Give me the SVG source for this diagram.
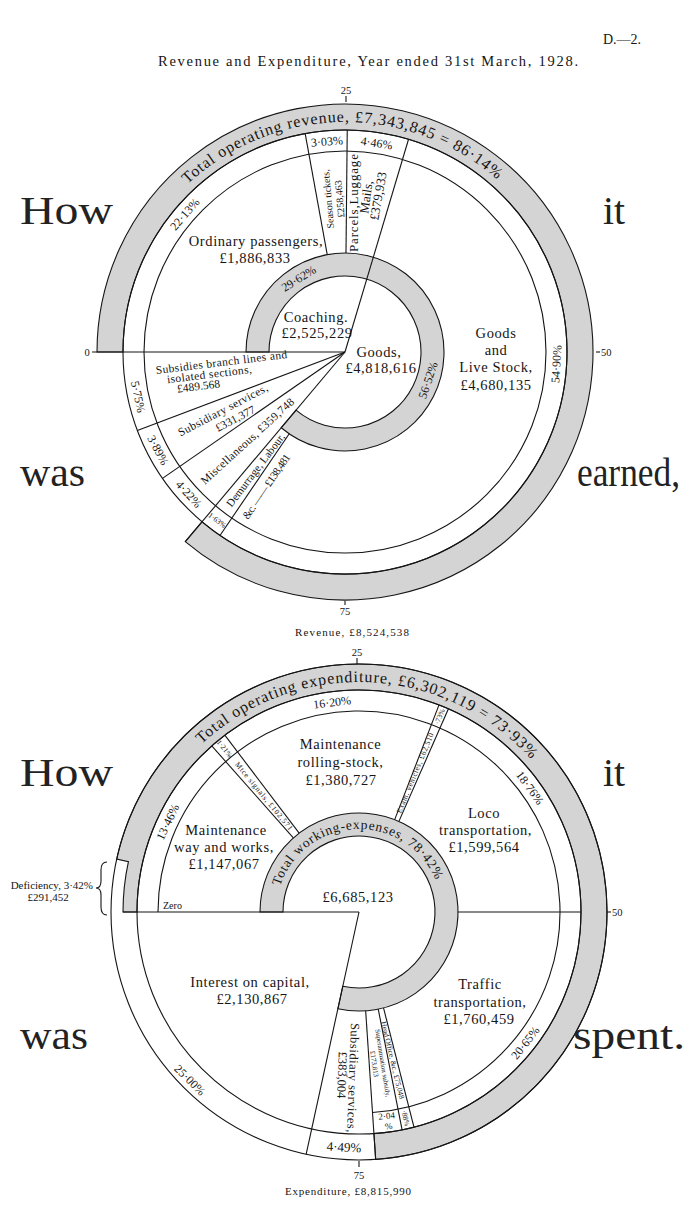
<svg xmlns="http://www.w3.org/2000/svg" width="700" height="1206" viewBox="0 0 700 1206">
<style>
.s{font-family:"Liberation Serif","Times New Roman",serif;fill:#151515}
.ln{fill:none;stroke:#151515;stroke-width:1.1}
.band{fill:#d4d4d4;stroke:#151515;stroke-width:1.1}
.lab{font-size:14.5px;letter-spacing:0.6px;text-anchor:middle}
.pct{font-size:12px;text-anchor:middle}
.sm{font-size:11.5px;text-anchor:middle}
.tn{font-size:10px;text-anchor:middle}
.xs{font-size:7.5px;text-anchor:middle}
.big{font-size:40px;fill:#222}
.bt{font-size:16px;letter-spacing:0.5px}
.sc{font-size:10.5px;text-anchor:middle}
</style>
<defs>
<path id="arcTop" d="M 187.6 184.3 A 230 230 0 0 1 502.4 184.3" fill="none"/>
<path id="arcBot" d="M 201.6 744.3 A 230 230 0 0 1 536.2 765.4" fill="none"/>
<path id="arcBotIn" d="M 280.06 886.35 A 83 83 0 0 1 437.94 886.35" fill="none"/>
</defs>
<rect width="700" height="1206" fill="#ffffff"/>

<g id="header">
<text class="s" x="603" y="44" font-size="14">D.—2.</text>
<text class="s" x="368" y="66" font-size="14.5" text-anchor="middle" textLength="420" lengthAdjust="spacing">Revenue and Expenditure, Year ended 31st March, 1928.</text>
</g>

<!-- ================= TOP CHART ================= -->
<g id="top-shapes">
<path class="band" d="M 97 352 A 248 248 0 1 1 185.26 541.70 L 202.01 521.81 A 222 222 0 1 0 123 352 Z"/>
<path class="band" d="M 246 352 A 99 99 0 1 1 281.23 427.73 L 296.05 410.13 A 76 76 0 1 0 269 352 Z"/>
<circle class="ln" cx="345" cy="352" r="201"/>
<circle class="ln" cx="345" cy="352" r="222"/>
</g>
<g id="top-connectors">
<path class="ln" d="M 92 352 L 345 352"/>
<path class="ln" d="M 327.24 254.60 L 305.17 133.60"/>
<path class="ln" d="M 346.00 253.01 L 347.24 130.01"/>
<path class="ln" d="M 345 352 L 408.54 139.28"/>
<path class="ln" d="M 289.24 433.80 L 219.97 535.44"/>
<path class="ln" d="M 345 352 L 185.26 541.70"/>
<path class="ln" d="M 345 352 L 162.49 478.38"/>
<path class="ln" d="M 345 352 L 137.34 430.48"/>
<path class="ln" d="M 346 96 L 346 102"/>
<path class="ln" d="M 596 352 L 600 352"/>
<path class="ln" d="M 345 601 L 345 605"/>
</g>
<g id="top-scale">
<text class="s sc" x="346" y="94">25</text>
<text class="s sc" x="87" y="356">0</text>
<text class="s" x="601" y="356" font-size="10.5">50</text>
<text class="s sc" x="345" y="615">75</text>
<text class="s" x="352" y="636" font-size="11" text-anchor="middle" textLength="114" lengthAdjust="spacing">Revenue, £8,524,538</text>
</g>
<g id="top-total">
<text class="s bt"><textPath href="#arcTop" textLength="340" lengthAdjust="spacing">Total operating revenue, £7,343,845 = 86·14%</textPath></text>
</g>
<g id="top-percent">
<text class="s pct" transform="translate(184.6 214.1) rotate(-49.3)" dy="4.2">22·13%</text>
<text class="s pct" transform="translate(326.9 141.3) rotate(-4.9)" dy="4.2">3·03%</text>
<text class="s pct" transform="translate(376.6 142.9) rotate(8.6)" dy="4.2">4·46%</text>
<text class="s pct" transform="translate(556.2 364) rotate(-86.8)" dy="4.2">54·90%</text>
<text class="s pct" transform="translate(138.3 396.8) rotate(77.8)" dy="4.2">5·75%</text>
<text class="s pct" transform="translate(158.2 450.1) rotate(62.3)" dy="4.2">3·89%</text>
<text class="s pct" transform="translate(188.9 494) rotate(47.7)" dy="4.2">4·22%</text>
<text class="s xs" transform="translate(217.4 520.1) rotate(37.2)" dy="2.6">1·63%</text>
<text class="s pct" transform="translate(298.6 278.4) rotate(-32.2)" dy="4.2">29·62%</text>
<text class="s pct" transform="translate(427.9 380.1) rotate(-71.3)" dy="4.2">56·52%</text>
</g>
<g id="ordinary-passengers">
<text class="s lab" x="256" y="246">Ordinary passengers,</text>
<text class="s lab" x="255" y="263">£1,886,833</text>
</g>
<g id="season-tickets">
<text class="s tn" transform="translate(328 199) rotate(-95)" dy="3.5">Season tickets,</text>
<text class="s tn" transform="translate(339.5 199) rotate(-95)" dy="3.5">£258,463</text>
</g>
<g id="parcels">
<text class="s" font-size="13" text-anchor="middle" transform="translate(353 203) rotate(-90)" dy="4.5" textLength="98" lengthAdjust="spacing">Parcels,Luggage</text>
<text class="s" font-size="13" text-anchor="middle" transform="translate(366 197) rotate(-82)" dy="4.5">Mails,</text>
<text class="s" font-size="13" text-anchor="middle" transform="translate(378 196) rotate(-80)" dy="4.5">£379,933</text>
</g>
<g id="coaching">
<text class="s lab" x="316" y="322">Coaching.</text>
<text class="s lab" x="317" y="338">£2,525,229</text>
</g>
<g id="goods">
<text class="s lab" x="379" y="357">Goods,</text>
<text class="s lab" x="381" y="373">£4,818,616</text>
</g>
<g id="goods-live-stock">
<text class="s lab" x="496" y="338" letter-spacing="1">Goods</text>
<text class="s lab" x="496" y="355" letter-spacing="1">and</text>
<text class="s lab" x="496" y="372" letter-spacing="1">Live Stock,</text>
<text class="s lab" x="496" y="390">£4,680,135</text>
</g>
<g id="subsidies">
<text class="s sm" transform="translate(222 366) rotate(-7)" letter-spacing="0.4">Subsidies branch lines and</text>
<text class="s sm" transform="translate(210 378) rotate(-7)" letter-spacing="0.4">isolated sections,</text>
<text class="s sm" transform="translate(199 390) rotate(-7)">£489.568</text>
</g>
<g id="subsidiary-services-top">
<text class="s sm" transform="translate(222.9 409.8) rotate(-27.7)" dy="4" letter-spacing="0.4">Subsidiary services,</text>
<text class="s sm" transform="translate(235.2 418.5) rotate(-27.7)" dy="4">£331,377</text>
</g>
<g id="miscellaneous">
<text class="s sm" transform="translate(247.4 440.8) rotate(-42.3)" dy="4" letter-spacing="0.3">Miscellaneous, £359,748</text>
</g>
<g id="demurrage">
<text class="s" font-size="11" text-anchor="middle" transform="translate(255.5 469.9) rotate(-52.8)" dy="3.8">Demurrage, Labour,</text>
<text class="s" font-size="11" transform="translate(248 520) rotate(-55.7)" textLength="76" lengthAdjust="spacing">&amp;c. —— £138,481</text>
</g>
<g id="top-words">
<text class="s big" x="20" y="224" textLength="93" lengthAdjust="spacingAndGlyphs">How</text>
<text class="s big" x="603" y="224" textLength="22" lengthAdjust="spacingAndGlyphs">it</text>
<text class="s big" x="20" y="486" textLength="65" lengthAdjust="spacingAndGlyphs">was</text>
<text class="s big" x="577" y="486" font-size="36" textLength="103" lengthAdjust="spacingAndGlyphs">earned,</text>
</g>

<!-- ================= BOTTOM CHART ================= -->
<g id="bottom-shapes">
<path class="band" d="M 123 912 A 236 236 0 0 1 128.43 861.68 L 116.70 859.13 A 248 248 0 1 1 375.67 1159.43 L 373.92 1133.49 A 222 222 0 1 0 137 912 Z"/>
<path class="band" d="M 260 912 A 99 99 0 1 1 337.89 1008.72 L 342.80 986.25 A 76 76 0 1 0 283 912 Z"/>
<circle class="ln" cx="359" cy="912" r="248"/>
<circle class="ln" cx="359" cy="912" r="222"/>
<path class="ln" d="M 158 912 A 201 201 0 1 1 372.51 1112.54"/>
</g>
<g id="bottom-connectors">
<path class="ln" d="M 123 912 L 359 912"/>
<path class="ln" d="M 293.34 837.91 L 211.77 745.86"/>
<path class="ln" d="M 299.16 833.13 L 224.82 735.13"/>
<path class="ln" d="M 394.69 819.65 L 439.03 704.92"/>
<path class="ln" d="M 398.89 821.39 L 448.44 708.80"/>
<path class="ln" d="M 458 912 L 581 912"/>
<path class="ln" d="M 383.51 1007.92 L 413.97 1127.10"/>
<path class="ln" d="M 378.23 1009.12 L 402.11 1129.78"/>
<path class="ln" d="M 365.65 1010.77 L 375.67 1159.43"/>
<path class="ln" d="M 359 912 L 306.13 1154.30"/>
<path class="ln" d="M 357 658 L 357 664"/>
<path class="ln" d="M 607 912 L 611 912"/>
<path class="ln" d="M 359 1161 L 359 1167"/>
<path class="ln" d="M 107 862 Q 101 862 101 870 L 101 881 Q 101 888 96 888 Q 101 888 101 895 L 101 907 Q 101 915 107 915"/>
</g>
<g id="bottom-scale">
<text class="s sc" x="357" y="656">25</text>
<text class="s" x="612" y="916" font-size="10.5">50</text>
<text class="s sc" x="359" y="1179">75</text>
<text class="s" x="348" y="1195" font-size="11" text-anchor="middle" textLength="126" lengthAdjust="spacing">Expenditure, £8,815,990</text>
<text class="s" x="163" y="909" font-size="10">Zero</text>
</g>
<g id="deficiency">
<text class="s" x="93" y="889" font-size="11" text-anchor="end">Deficiency, 3·42%</text>
<text class="s" x="48" y="901" font-size="11" text-anchor="middle">£291,452</text>
</g>
<g id="bottom-total">
<text class="s bt"><textPath href="#arcBot" textLength="368" lengthAdjust="spacing">Total operating expenditure, £6,302,119 = 73·93%</textPath></text>
<text class="s" font-size="13.5" letter-spacing="0.4"><textPath href="#arcBotIn" textLength="202" lengthAdjust="spacing">Total working-expenses,  78·42%</textPath></text>
</g>
<g id="bottom-percent">
<text class="s pct" transform="translate(167.6 821.9) rotate(-64.8)" dy="4.2">13·46%</text>
<text class="s xs" transform="translate(224.7 748.6) rotate(50.6)" dy="2.6">1·21%</text>
<text class="s pct" transform="translate(332.1 702.2) rotate(-7.3)" dy="4.2">16·20%</text>
<text class="s xs" transform="translate(439.6 716.5) rotate(-67.6)" dy="2.6">·73%</text>
<text class="s pct" transform="translate(530.1 787.7) rotate(54)" dy="4.2">18·76%</text>
<text class="s pct" transform="translate(525.2 1042.8) rotate(-51.8)" dy="4.2">20·65%</text>
<text class="s xs" transform="translate(405.8 1118.2) rotate(77.2)" dy="2.6">·88%</text>
<text class="s" font-size="9" text-anchor="middle" transform="translate(387 1119) rotate(-6)">2·04</text>
<text class="s" font-size="9" text-anchor="middle" transform="translate(389 1129) rotate(-6)">%</text>
<text class="s" font-size="13" text-anchor="middle" transform="translate(344 1147) rotate(3)" dy="4.5">4·49%</text>
<text class="s pct" transform="translate(190 1080) rotate(45)" dy="4.2">25·00%</text>
</g>
<g id="mtce-rolling-stock">
<text class="s lab" x="340.5" y="749" font-size="14">Maintenance</text>
<text class="s lab" x="340.5" y="767" font-size="14">rolling-stock,</text>
<text class="s lab" x="341" y="785" font-size="14">£1,380,727</text>
</g>
<g id="mtce-way-works">
<text class="s lab" x="226" y="835">Maintenance</text>
<text class="s lab" x="224" y="852">way and works,</text>
<text class="s lab" x="224" y="869">£1,147,067</text>
</g>
<g id="mtce-signals">
<text class="s xs" transform="translate(264 796) rotate(50.6)" dy="2.6" textLength="86" lengthAdjust="spacing">Mtce signals, £102,571</text>
</g>
<g id="exam-vehicles">
<text class="s xs" transform="translate(415 773) rotate(-67.6)" dy="2.6" textLength="86" lengthAdjust="spacing">Exam. vehicles, £62,510</text>
</g>
<g id="loco">
<text class="s lab" x="484" y="818">Loco</text>
<text class="s lab" x="485.5" y="835">transportation,</text>
<text class="s lab" x="484" y="852">£1,599,564</text>
</g>
<g id="working-total">
<text class="s lab" x="358" y="902">£6,685,123</text>
</g>
<g id="interest">
<text class="s lab" x="250" y="987">Interest on capital,</text>
<text class="s lab" x="252" y="1004">£2,130,867</text>
</g>
<g id="traffic">
<text class="s lab" x="480" y="989">Traffic</text>
<text class="s lab" x="480" y="1007">transportation,</text>
<text class="s lab" x="479" y="1024">£1,760,459</text>
</g>
<g id="subsidiary-services-bottom">
<text class="s" font-size="12.5" letter-spacing="0.5" text-anchor="middle" transform="translate(353 1078) rotate(92)" dy="4">Subsidiary services,</text>
<text class="s" font-size="12.5" text-anchor="middle" transform="translate(342 1075) rotate(92)" dy="4">£383,004</text>
</g>
<g id="superannuation">
<text class="s" font-size="7" text-anchor="middle" transform="translate(383 1063) rotate(81)" dy="2.4">Superannuation subsidy,</text>
<text class="s" font-size="7" text-anchor="middle" transform="translate(374.5 1064) rotate(82)" dy="2.4">£173,813</text>
</g>
<g id="head-office">
<text class="s" font-size="7.5" text-anchor="middle" transform="translate(392.8 1060) rotate(76.5)" dy="2.6">Head Office, &amp;c., £75,048</text>
</g>
<g id="bottom-words">
<text class="s big" x="20" y="786" textLength="93" lengthAdjust="spacingAndGlyphs">How</text>
<text class="s big" x="603" y="786" textLength="22" lengthAdjust="spacingAndGlyphs">it</text>
<text class="s big" x="20" y="1049" textLength="68" lengthAdjust="spacingAndGlyphs">was</text>
<text class="s big" x="573" y="1049" textLength="112" lengthAdjust="spacingAndGlyphs">spent.</text>
</g>
</svg>
